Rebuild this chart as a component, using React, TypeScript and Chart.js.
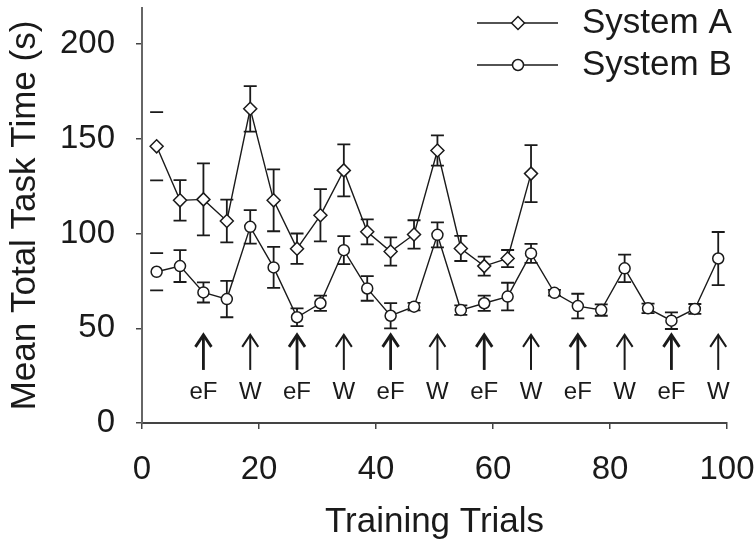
import React, { useEffect, useRef } from "react";
import { Chart, registerables } from "chart.js";

Chart.register(...registerables);

const trialsA = [2.5, 6.5, 10.5, 14.5, 18.5, 22.5, 26.5, 30.5, 34.5, 38.5, 42.5, 46.5, 50.5, 54.5, 58.5, 62.5, 66.5];
const systemA = [146, 117.5, 118, 106.6, 165.8, 117.5, 92, 109.6, 133.3, 100.9, 90.5, 99.5, 143.8, 92.1, 82.8, 86.8, 131.6];
const errA = [18, 10.7, 19, 11.3, 12, 16.3, 8, 13.8, 13.7, 6.6, 7.5, 7.5, 8, 6.6, 5, 4.5, 15];

const trialsB = [2.5, 6.5, 10.5, 14.5, 18.5, 22.5, 26.5, 30.5, 34.5, 38.5, 42.5, 46.5, 50.5, 54.5, 58.5, 62.5, 66.5, 70.5, 74.5, 78.5, 82.5, 86.5, 90.5, 94.5, 98.5];
const systemB = [79.8, 82.8, 68.9, 65.4, 103.5, 82.1, 55.8, 63.2, 91.2, 71, 56.6, 61.4, 99.3, 59.6, 63.2, 66.7, 89.5, 68.7, 61.7, 59.6, 81.6, 60.5, 54, 60.2, 86.8];
const errB = [9.8, 8.4, 5.3, 9.6, 8.8, 10.8, 4.7, 4, 7.4, 6.5, 6.7, 2, 6.6, 2.5, 4, 7.3, 5, 1.5, 6.5, 3, 7.3, 2.5, 4.4, 2.6, 14];

// first point of each series shows only its caps (stem not visible)
const capsOnlyIndex = 0;

const seriesLabels = ["System A", "System B"];
const arrowTrials = [10.5, 18.5, 26.5, 34.5, 42.5, 50.5, 58.5, 66.5, 74.5, 82.5, 90.5, 98.5];
const arrowLabels = ["eF", "W", "eF", "W", "eF", "W", "eF", "W", "eF", "W", "eF", "W"];
const xTickValues = [0, 20, 40, 60, 80, 100];
const yTickValues = [0, 50, 100, 150, 200];

const FONT = "'Liberation Sans', Arial, Helvetica, sans-serif";
const INK = "#1a1a1a";

const errorBarPlugin = {
  id: "errorBars",
  beforeDatasetsDraw(chart: any) {
    const ctx = chart.ctx;
    const yScale = chart.scales.y;
    const errs = [errA, errB];
    const vals = [systemA, systemB];
    ctx.save();
    ctx.strokeStyle = INK;
    ctx.lineWidth = 1.8;
    chart.data.datasets.forEach((ds: any, di: number) => {
      const meta = chart.getDatasetMeta(di);
      meta.data.forEach((pt: any, i: number) => {
        const v = vals[di][i];
        const e = errs[di][i];
        const x = pt.x;
        const yt = yScale.getPixelForValue(v + e);
        const yb = yScale.getPixelForValue(v - e);
        const cw = 6.5;
        ctx.beginPath();
        if (i !== capsOnlyIndex) {
          ctx.moveTo(x, yt);
          ctx.lineTo(x, yb);
        }
        ctx.moveTo(x - cw, yt);
        ctx.lineTo(x + cw, yt);
        ctx.moveTo(x - cw, yb);
        ctx.lineTo(x + cw, yb);
        ctx.stroke();
      });
    });
    ctx.restore();
  },
};

const annotationPlugin = {
  id: "arrowsLegend",
  afterDraw(chart: any) {
    const ctx = chart.ctx;
    const xs = chart.scales.x;
    const ys = chart.scales.y;
    ctx.save();
    // arrows + labels
    arrowTrials.forEach((t, i) => {
      const x = xs.getPixelForValue(t);
      const yTop = ys.getPixelForValue(46.5);
      const yBot = ys.getPixelForValue(28);
      const bold = arrowLabels[i] === "eF";
      ctx.strokeStyle = INK;
      ctx.lineWidth = bold ? 2.8 : 2;
      ctx.lineCap = "butt";
      ctx.beginPath();
      ctx.moveTo(x, yBot);
      ctx.lineTo(x, yTop + 1);
      ctx.stroke();
      ctx.beginPath();
      ctx.moveTo(x - 8, yTop + 12);
      ctx.lineTo(x, yTop);
      ctx.lineTo(x + 8, yTop + 12);
      ctx.stroke();
      ctx.fillStyle = INK;
      ctx.font = `24px ${FONT}`;
      ctx.textAlign = "center";
      ctx.textBaseline = "middle";
      ctx.fillText(arrowLabels[i], x, ys.getPixelForValue(16));
    });
    // legend
    const lx1 = 477, lx2 = 558, mx = 518, tx = 582;
    chart.data.datasets.forEach((ds: any, di: number) => {
      const y = 23 + di * 42;
      ctx.strokeStyle = INK;
      ctx.lineWidth = 1.5;
      ctx.beginPath();
      ctx.moveTo(lx1, y);
      ctx.lineTo(lx2, y);
      ctx.stroke();
      ctx.fillStyle = "#ffffff";
      ctx.lineWidth = 1.5;
      ctx.beginPath();
      if (di === 0) {
        const r = 6.5;
        ctx.moveTo(mx - r, y);
        ctx.lineTo(mx, y - r);
        ctx.lineTo(mx + r, y);
        ctx.lineTo(mx, y + r);
        ctx.closePath();
      } else {
        ctx.arc(mx, y, 5.5, 0, Math.PI * 2);
      }
      ctx.fill();
      ctx.stroke();
      ctx.fillStyle = INK;
      ctx.font = `35px ${FONT}`;
      ctx.textAlign = "left";
      ctx.textBaseline = "middle";
      ctx.fillText(ds.label, tx, y + 0.5);
    });
    ctx.restore();
  },
};

export default function App() {
  const canvasRef = useRef<HTMLCanvasElement | null>(null);

  useEffect(() => {
    if (!canvasRef.current) return;
    const chart = new Chart(canvasRef.current, {
      type: "line",
      data: {
        datasets: [
          {
            label: seriesLabels[0],
            data: trialsA.map((x, i) => ({ x, y: systemA[i] })),
            borderColor: INK,
            borderWidth: 1.4,
            pointStyle: "rectRot",
            pointRadius: 6.5,
            pointBorderWidth: 1.5,
            pointBackgroundColor: "#ffffff",
            pointBorderColor: INK,
            tension: 0,
          },
          {
            label: seriesLabels[1],
            data: trialsB.map((x, i) => ({ x, y: systemB[i] })),
            borderColor: INK,
            borderWidth: 1.4,
            pointStyle: "circle",
            pointRadius: 5.5,
            pointBorderWidth: 1.5,
            pointBackgroundColor: "#ffffff",
            pointBorderColor: INK,
            tension: 0,
          },
        ],
      },
      options: {
        responsive: false,
        animation: false,
        layout: { padding: { top: 7, right: 27, left: 0, bottom: 0 } },
        plugins: {
          legend: { display: false },
          tooltip: { enabled: false },
        },
        scales: {
          x: {
            type: "linear",
            min: 0,
            max: 100,
            afterBuildTicks: (scale: any) => {
              scale.ticks = xTickValues.map((v) => ({ value: v }));
            },
            afterFit: (scale: any) => {
              scale.height = 122;
              scale.paddingLeft = 0;
              scale.paddingRight = 0;
            },
            ticks: {
              color: INK,
              font: { size: 33, family: FONT },
              padding: 21,
              maxRotation: 0,
            },
            grid: {
              drawOnChartArea: false,
              drawTicks: true,
              tickLength: 6,
              color: "#444",
              lineWidth: 1.5,
            },
            border: { display: true, color: "#444", width: 2 },
            title: {
              display: true,
              text: "Training Trials",
              color: INK,
              font: { size: 35, family: FONT },
              padding: { top: 0, bottom: 2 },
            },
          },
          y: {
            type: "linear",
            min: 0,
            max: 219,
            afterBuildTicks: (scale: any) => {
              scale.ticks = yTickValues.map((v) => ({ value: v }));
            },
            afterFit: (scale: any) => {
              scale.width = 142;
              scale.paddingTop = 0;
              scale.paddingBottom = 0;
            },
            ticks: {
              color: INK,
              font: { size: 33, family: FONT },
              padding: 21,
            },
            grid: {
              drawOnChartArea: false,
              drawTicks: true,
              tickLength: 6,
              color: "#444",
              lineWidth: 1.5,
            },
            border: { display: true, color: "#666", width: 2 },
            title: {
              display: true,
              text: "Mean Total Task Time (s)",
              color: INK,
              font: { size: 35, family: FONT },
              padding: { top: 4, bottom: 0 },
            },
          },
        },
      },
      plugins: [errorBarPlugin, annotationPlugin],
    });
    return () => chart.destroy();
  }, []);

  return (
    <div style={{ position: "absolute", left: 0, top: 0, width: 754, height: 545, background: "#fff" }}>
      <canvas ref={canvasRef} width={754} height={545} style={{ display: "block" }} />
    </div>
  );
}
